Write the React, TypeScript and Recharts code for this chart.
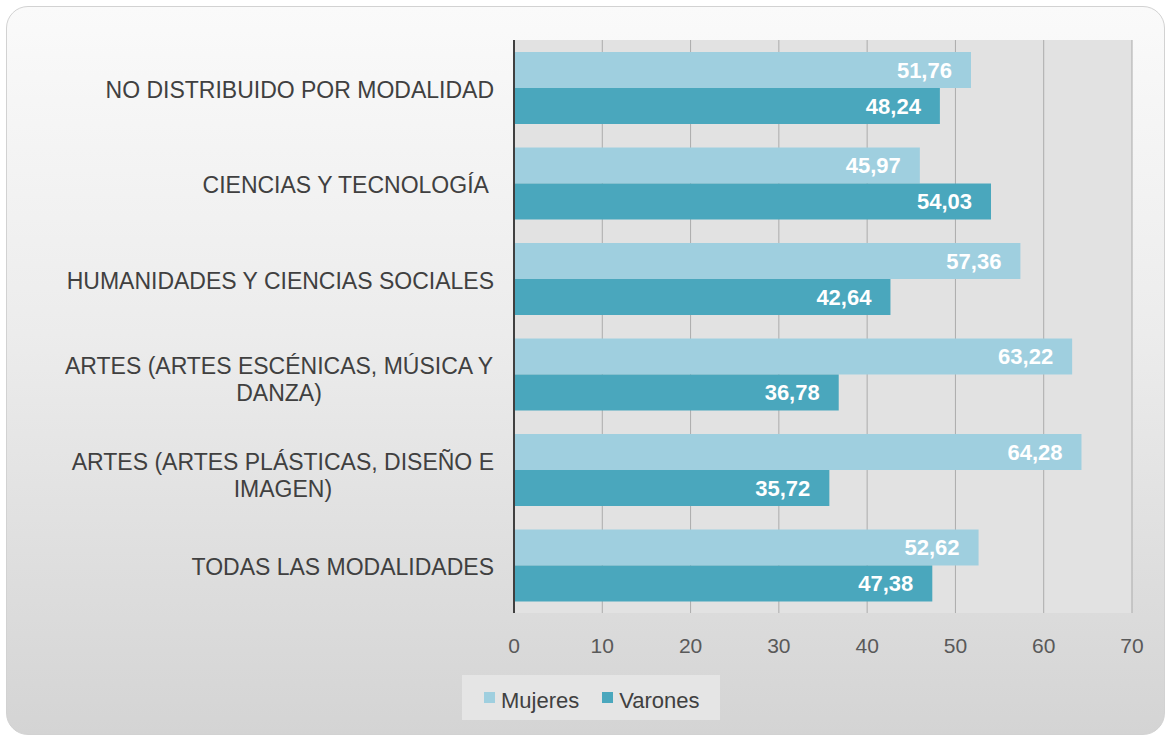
import { BarChart, Bar, XAxis, YAxis, CartesianGrid, Legend, LabelList } from 'recharts';

const categories = [
  'NO DISTRIBUIDO POR MODALIDAD',
  'CIENCIAS Y TECNOLOGÍA ',
  'HUMANIDADES Y CIENCIAS SOCIALES',
  'ARTES (ARTES ESCÉNICAS, MÚSICA Y\nDANZA)',
  'ARTES (ARTES PLÁSTICAS, DISEÑO E\nIMAGEN)',
  'TODAS LAS MODALIDADES',
];
const mujeres = [51.76, 45.97, 57.36, 63.22, 64.28, 52.62];
const varones = [48.24, 54.03, 42.64, 36.78, 35.72, 47.38];
const xTicks = [0, 10, 20, 30, 40, 50, 60, 70];

const data = categories.map((name, i) => ({ name, mujeres: mujeres[i], varones: varones[i] }));

const FONT = '"Liberation Sans", Arial, Helvetica, sans-serif';
const fmt = (v: any) => Number(v).toFixed(2).replace('.', ',');

let ctx: CanvasRenderingContext2D | null = null;
const textWidth = (s: string, size: number) => {
  if (!ctx) ctx = document.createElement('canvas').getContext('2d');
  if (!ctx) return s.length * size * 0.6;
  ctx.font = `${size}px ${FONT}`;
  return ctx.measureText(s).width;
};

const CategoryTick = ({ x, y, payload }: any) => {
  const lines = String(payload.value).split('\n');
  const common = { fontFamily: FONT, fontSize: 23, fill: '#404040', style: { whiteSpace: 'pre' as const } };
  if (lines.length === 1) {
    return (
      <text x={x} y={y + 10} textAnchor="end" {...common}>
        {lines[0]}
      </text>
    );
  }
  // wrapped labels are centred under the widest line
  const w = Math.max(...lines.map((l) => textWidth(l, 23)));
  const cx = x - w / 2;
  return (
    <text textAnchor="middle" {...common}>
      {lines.map((l, i) => (
        <tspan key={i} x={cx} y={y + i * 27}>
          {l}
        </tspan>
      ))}
    </text>
  );
};

const ValueTick = ({ x, y, payload }: any) => (
  <text x={x} y={y + 16} textAnchor="middle" fontFamily={FONT} fontSize={21} fill="#595959">
    {payload.value}
  </text>
);

const LegendBox = ({ payload }: any) => (
  <div
    style={{
      height: 45,
      width: 258,
      boxSizing: 'border-box',
      background: '#e5e5e5',
      display: 'flex',
      alignItems: 'center',
      paddingLeft: 22,
      fontFamily: FONT,
      fontSize: 22,
      color: '#404040',
    }}
  >
    {(payload || []).map((entry: any, i: number) => (
      <div key={i} style={{ display: 'flex', alignItems: 'center', marginRight: 23 }}>
        <span style={{ width: 11, height: 11, background: entry.color, marginRight: 6, display: 'inline-block' }} />
        <span style={{ position: 'relative', top: 3 }}>{entry.value}</span>
      </div>
    ))}
  </div>
);

export default function App() {
  return (
    <div style={{ position: 'absolute', left: 0, top: 0, width: 1168, height: 737, background: '#fff' }}>
      <div
        style={{
          position: 'absolute',
          left: 6,
          top: 6,
          width: 1157,
          height: 727,
          borderRadius: 22,
          border: '1px solid #d2d2d2',
          background: 'linear-gradient(to bottom, #fafafa 0%, #ececec 45%, #d4d4d4 100%)',
        }}
      />
      <div style={{ position: 'absolute', left: 0, top: 0 }}>
        <BarChart
          width={1168}
          height={737}
          data={data}
          layout="vertical"
          margin={{ top: 40, right: 36, left: 0, bottom: 17 }}
          barCategoryGap={12}
          barGap={0}
        >
          <CartesianGrid horizontal={false} stroke="#ababab" fill="#e2e2e2" />
          <XAxis
            type="number"
            domain={[0, 70]}
            ticks={xTicks}
            axisLine={false}
            tickLine={false}
            tickSize={0}
            tickMargin={24}
            height={62}
            tick={<ValueTick />}
          />
          <YAxis
            type="category"
            dataKey="name"
            width={514}
            axisLine={{ stroke: '#404040', strokeWidth: 2 }}
            tickLine={false}
            tickSize={0}
            tickMargin={20}
            interval={0}
            tick={<CategoryTick />}
          />
          <Legend
            verticalAlign="bottom"
            content={<LegendBox />}
            wrapperStyle={{ left: 462, width: 258, bottom: 17 }}
          />
          <Bar dataKey="mujeres" name="Mujeres" fill="#9fcfdf" isAnimationActive={false}>
            <LabelList
              dataKey="mujeres"
              position="insideRight"
              offset={19}
              fill="#ffffff"
              fontSize={22}
              fontWeight="bold"
              fontFamily={FONT}
              formatter={fmt}
            />
          </Bar>
          <Bar dataKey="varones" name="Varones" fill="#4aa7bd" isAnimationActive={false}>
            <LabelList
              dataKey="varones"
              position="insideRight"
              offset={19}
              fill="#ffffff"
              fontSize={22}
              fontWeight="bold"
              fontFamily={FONT}
              formatter={fmt}
            />
          </Bar>
        </BarChart>
      </div>
    </div>
  );
}
